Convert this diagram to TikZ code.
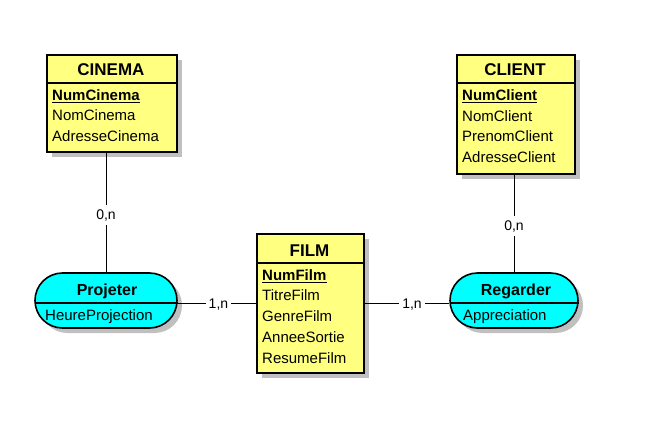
\documentclass[tikz,border=0pt]{standalone}
\usepackage{fontspec}
\setmainfont{Liberation Sans}
\usetikzlibrary{shapes.misc,shadows,calc}
\definecolor{entyellow}{RGB}{255,255,128}
\definecolor{relcyan}{RGB}{0,255,255}
\definecolor{shgray}{RGB}{192,192,192}
\begin{document}
\begin{tikzpicture}[x=1pt,y=-1pt,
  shd/.style={drop shadow={shadow xshift=5pt,shadow yshift=-5pt,fill=shgray,opacity=1}},
  ent/.style={draw=black,line width=1.6pt,fill=entyellow,anchor=north west,inner sep=0pt,shd},
  rel/.style={rounded rectangle,draw=black,line width=1.6pt,fill=relcyan,inner sep=0pt,minimum height=55pt,shd},
  ttl/.style={font=\fontsize{17}{17}\selectfont\bfseries,anchor=base,inner sep=0pt},
  rttl/.style={font=\fontsize{16}{16}\selectfont\bfseries,anchor=base,inner sep=0pt},
  attr/.style={font=\fontsize{15}{15}\selectfont,anchor=base west,inner sep=0pt},
  keyattr/.style={font=\fontsize{15}{15}\selectfont\bfseries,anchor=base west,inner sep=0pt},
  sepline/.style={line width=1.1pt},
  ulin/.style={line width=1.2pt},
  conn/.style={line width=1pt},
  lbl/.style={fill=white,font=\fontsize{14}{14}\selectfont,inner xsep=3pt,inner ysep=5pt,text height=10pt,text depth=0pt}]
\fill[white] (0,0) rectangle (661,436);
\useasboundingbox (0,0) rectangle (661,436);

% entities
\node[ent,minimum width=130pt,minimum height=97pt] (cinema) at (46,54) {};
\node[ent,minimum width=118pt,minimum height=119pt] (client) at (456,54) {};
\node[ent,minimum width=107pt,minimum height=139pt] (film) at (256,233) {};

% relations
\node[rel,minimum width=142pt] (projeter) at (106,300.5) {};
\node[rel,minimum width=128pt] (regarder) at (514,300.5) {};

% separators
\draw[sepline] ($(cinema.north west)+(0,29)$) -- ($(cinema.north east)+(0,29)$);
\draw[sepline] ($(client.north west)+(0,29)$) -- ($(client.north east)+(0,29)$);
\draw[sepline] ($(film.north west)+(0,30)$) -- ($(film.north east)+(0,30)$);
\draw[sepline] ($(projeter.west)+(0.3,2.5)$) -- ($(projeter.east)+(-0.3,2.5)$);
\draw[sepline] ($(regarder.west)+(0.3,2.5)$) -- ($(regarder.east)+(-0.3,2.5)$);

% CINEMA
\node[ttl] (cinemattl) at (111,76) {CINEMA};
\node[keyattr] (numcinema) at (52,100) {NumCinema};
\node[attr] (nomcinema) at (52,120.8) {NomCinema};
\node[attr] (adrcinema) at (52,141.6) {AdresseCinema};
\draw[ulin] ($(numcinema.base west)+(0,2.5)$) -- ($(numcinema.base east)+(0,2.5)$);

% CLIENT
\node[ttl] (clientttl) at (515,76) {CLIENT};
\node[keyattr] (numclient) at (462,100) {NumClient};
\node[attr] (nomclient) at (462,121) {NomClient};
\node[attr] (prenomclient) at (462,141.7) {PrenomClient};
\node[attr] (adrclient) at (462,162.5) {AdresseClient};
\draw[ulin] ($(numclient.base west)+(0,2.5)$) -- ($(numclient.base east)+(0,2.5)$);

% FILM
\node[ttl] (filmttl) at (309.5,256.5) {FILM};
\node[keyattr] (numfilm) at (262,280) {NumFilm};
\node[attr] (titrefilm) at (262,300.8) {TitreFilm};
\node[attr] (genrefilm) at (262,321.6) {GenreFilm};
\node[attr] (anneesortie) at (262,342.4) {AnneeSortie};
\node[attr] (resumefilm) at (262,363.2) {ResumeFilm};
\draw[ulin] ($(numfilm.base west)+(0,2.5)$) -- ($(numfilm.base east)+(0,2.5)$);

% relation texts
\node[rttl] (projttl) at (107,295) {Projeter};
\node[attr] (heureproj) at (45,320) {HeureProjection};
\node[rttl] (regttl) at (516,295) {Regarder};
\node[attr] (appreciation) at (463,320) {Appreciation};

% connectors
\draw[conn] (projeter.north) -- node[lbl,pos=0.48] (l1) {0,n} (projeter.north |- cinema.south);
\draw[conn] (projeter.east |- film.west) -- node[lbl,pos=0.52] (l2) {1,n} (film.west);
\draw[conn] (film.east) -- node[lbl,pos=0.56] (l3) {1,n} (regarder.west |- film.east);
\draw[conn] (regarder.north) -- node[lbl,pos=0.475] (l4) {0,n} (regarder.north |- client.south);
\end{tikzpicture}
\end{document}
